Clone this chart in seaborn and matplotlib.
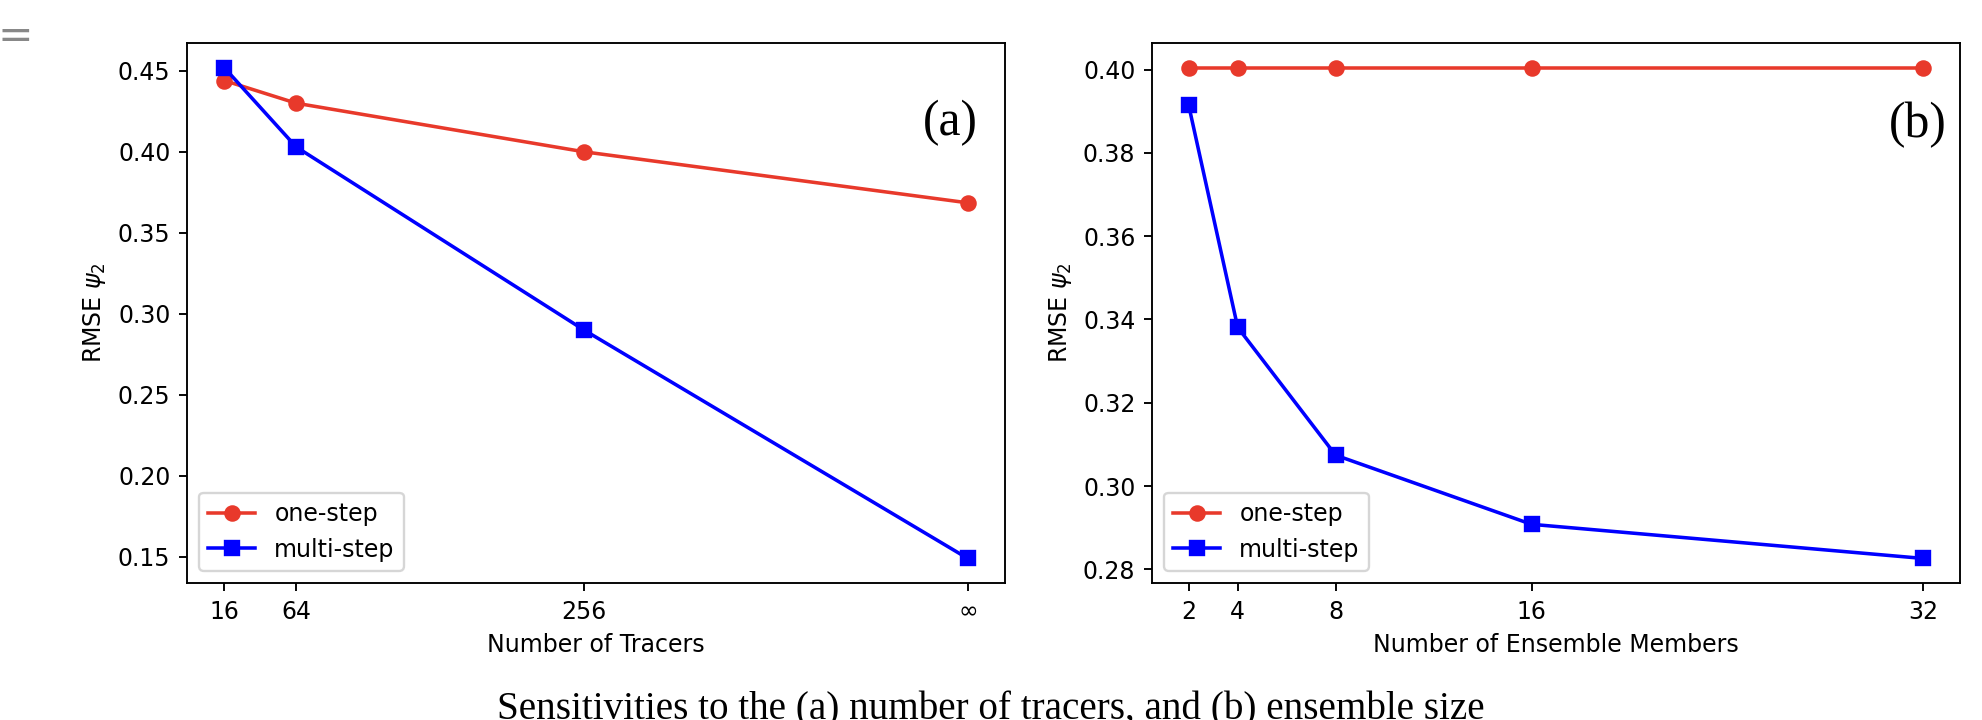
import matplotlib
matplotlib.use("Agg")
import matplotlib.pyplot as plt
import seaborn as sns

# données
tracers = [16, 64, 256, 512]
tracer_labels = ["16", "64", "256", "∞"]
one_step_tracers = [0.444, 0.430, 0.400, 0.3685]
multi_step_tracers = [0.452, 0.403, 0.290, 0.149]

members = [2, 4, 8, 16, 32]
member_labels = ["2", "4", "8", "16", "32"]
one_step_members = [0.4005, 0.4005, 0.4005, 0.4005, 0.4005]
multi_step_members = [0.3914, 0.3381, 0.3074, 0.2908, 0.2826]

red = "#e8392b"
blue = "#0000ff"

W, H, DPI = 1982, 720, 170
fig = plt.figure(figsize=(W / DPI, H / DPI), dpi=DPI)


def box(x0, x1, y0, y1):
    return [x0 / W, 1 - y1 / H, (x1 - x0) / W, (y1 - y0) / H]


ax_a = fig.add_axes(box(187, 1005, 43, 583))
ax_b = fig.add_axes(box(1152, 1960, 43, 583))

panels = [
    (ax_a, tracers, tracer_labels, one_step_tracers, multi_step_tracers,
     "Number of Tracers", "(a)", 0.967, 0.83),
    (ax_b, members, member_labels, one_step_members, multi_step_members,
     "Number of Ensemble Members", "(b)", 0.984, 0.826),
]

for ax, xs, xlabels, one, multi, xlabel, tag, tx, ty in panels:
    sns.lineplot(x=xs, y=one, ax=ax, color=red, marker="o", markersize=6,
                 markeredgecolor=red, markeredgewidth=1, linewidth=1.5,
                 label="one-step")
    sns.lineplot(x=xs, y=multi, ax=ax, color=blue, marker="s", markersize=6,
                 markeredgecolor=blue, markeredgewidth=1, linewidth=1.5,
                 label="multi-step")
    ax.set_xticks(xs)
    ax.set_xticklabels(xlabels)
    ax.set_xlabel(xlabel)
    ax.set_ylabel(r"RMSE $\psi_2$")
    ax.legend(loc="lower left")
    ax.text(tx, ty, tag, transform=ax.transAxes, ha="right", va="baseline",
            fontsize=21, family="Liberation Serif")

fig.text(0.5, 1 / H, "Sensitivities to the (a) number of tracers, and (b) ensemble size",
         ha="center", va="baseline", fontsize=16.6, family="Liberation Serif")
fig.text(-3 / W, 1 - 36 / H, "=", ha="left", va="center", fontsize=18, color="#888888")

fig.savefig("out.png", dpi=DPI)
